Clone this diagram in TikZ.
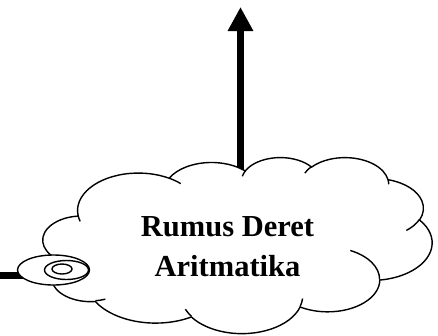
\documentclass[tikz,border=0pt]{standalone}
\usepackage{fontspec}
\setmainfont{Liberation Serif}
\usetikzlibrary{arrows.meta}

% elliptical arc given by radii and visual start angle / sweep (degrees)
\newcommand\carc[4]{arc[x radius=#1, y radius=#2,
  start angle={atan2(#1*sin(#3),#2*cos(#3))},
  delta angle={mod(atan2(#1*sin(#3+#4),#2*cos(#3+#4))-atan2(#1*sin(#3),#2*cos(#3))+720,360)}]}

\tikzset{
  outline/.style={line width=1.4pt, black},
  thickline/.style={line width=7pt, black},
  bubble/.style={outline, fill=white},
  label/.style={font=\fontsize{30.5}{40}\selectfont\bfseries, align=center, inner sep=0pt}
}

\begin{document}
\begin{tikzpicture}[x=1pt, y=-1pt]
\useasboundingbox (0,0) rectangle (438,335);

% connector leaving the cloud upwards
\coordinate (arrowfoot) at (240.5,175);
\coordinate (arrowtip) at (240.5,7);
\draw[thickline, -{Triangle[width=24pt, length=24pt]}] (arrowfoot) -- (arrowtip);

% connector leaving the tail to the left
\coordinate (leftend) at (0,275.5);
\coordinate (tailjoin) at (30,275.5);
\draw[thickline] (tailjoin) -- (leftend);

% cloud body
\begin{scope}[shift={(43,157)}, xscale=389/432, yscale=176/432]
  \draw[outline, fill=white] (39.00,143.70)
    \carc{67.53}{91.90}{-190.48748}{123.78053}
    \carc{53.33}{72.67}{-144.10238}{89.94523}
    \carc{43.65}{59.45}{-145.80792}{99.72302}
    \carc{48.57}{65.95}{-130.98607}{117.24173}
    \carc{53.33}{72.73}{-78.70888}{109.02692}
    \carc{67.75}{92.20}{-46.26725}{130.269}
    \carc{57.85}{78.67}{0.62502}{114.03333}
    \carc{67.52}{92.15}{22.4516}{115.17255}
    \carc{77.20}{105.43}{66.24263}{75.71102}
    \carc{43.60}{59.18}{-274.94208}{146.73557}
    \carc{43.45}{59.45}{-246.8285}{152.51885}
    -- cycle;
  % inner creases between the lobes
  \draw[outline]
    (46.93,261.77) \carc{43.45}{59.45}{86.742}{26.4295}
    (69.28,348.99) \carc{43.60}{59.18}{73.61047}{11.44747}
    (164.78,390.90) \carc{67.52}{92.15}{137.62415}{14.0811}
    (288.27,347.51) \carc{67.52}{92.15}{6.45327}{15.99835}
    (341.29,229.54) \carc{57.85}{78.67}{-70.29235}{70.91737}
    (417.98,153.54) \carc{53.33}{72.73}{30.31803}{27.7515}
    (383.24,54.26) \carc{48.57}{65.95}{-13.74433}{14.8589}
    (290.78,39.52) \carc{48.57}{65.95}{-149.18145}{18.19537}
    (221.41,47.20) \carc{43.65}{59.45}{-163.49427}{17.68635}
    (140.00,51.92) \carc{67.53}{91.90}{-66.70695}{12.31935}
    (41.27,157.89) \carc{67.53}{91.90}{157.65435}{11.85817};
\end{scope}

% tail bubbles
\draw[bubble] (53.5,270) ellipse[x radius=36, y radius=15];
\draw[bubble] (66.5,270) ellipse[x radius=22, y radius=9.5];
\draw[bubble] (62,269) ellipse[x radius=10, y radius=5];

\node[label] (title) at (227.5,247) {Rumus Deret\\Aritmatika};
\end{tikzpicture}
\end{document}
